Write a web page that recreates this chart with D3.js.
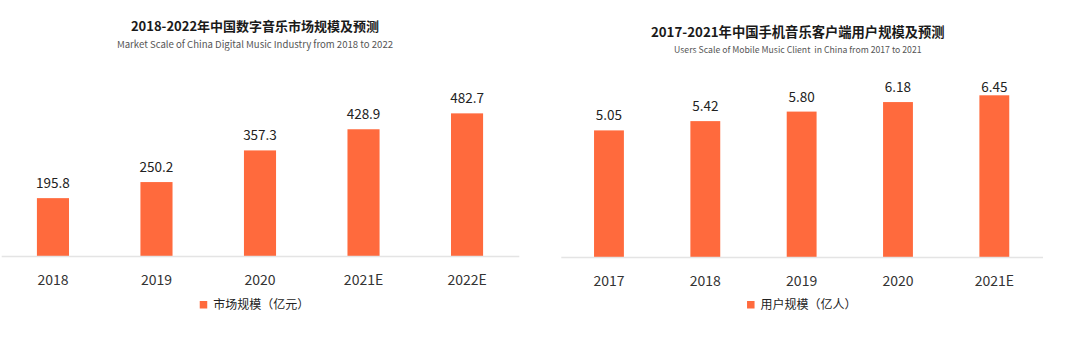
<!DOCTYPE html>
<html><head><meta charset="utf-8">
<script src="https://cdn.jsdelivr.net/npm/d3@7"></script>
<style>
html,body{margin:0;padding:0;background:#fff;}
svg{display:block;font-family:"Noto Sans CJK SC","Noto Sans",sans-serif;}
text{white-space:pre;}
</style></head>
<body><svg id="c" width="1079" height="346"></svg>
<script>
// ---- Data ----
const leftTitle = "2018-2022年中国数字音乐市场规模及预测";
const leftSubtitle = "Market Scale of China Digital Music Industry from 2018 to 2022";
const leftCategories = ["2018", "2019", "2020", "2021E", "2022E"];
const leftValues = [195.8, 250.2, 357.3, 428.9, 482.7];
const leftLabels = ["195.8", "250.2", "357.3", "428.9", "482.7"];
const leftLegend = "市场规模（亿元）";

const rightTitle = "2017-2021年中国手机音乐客户端用户规模及预测";
const rightSubtitle = "Users Scale of Mobile Music Client  in China from 2017 to 2021";
const rightCategories = ["2017", "2018", "2019", "2020", "2021E"];
const rightValues = [5.05, 5.42, 5.80, 6.18, 6.45];
const rightLabels = ["5.05", "5.42", "5.80", "6.18", "6.45"];
const rightLegend = "用户规模（亿人）";

const BAR = "#FF6A3D";
const svg = d3.select("#c");

function panel(cfg) {
  const g = svg.append("g");
  const x = d3.scaleBand().domain(cfg.cats).range([cfg.x0, cfg.x1]).paddingInner(0.69).paddingOuter(0.345);
  const y = d3.scaleLinear().domain([0, cfg.ymax]).range([cfg.base, cfg.top]);

  // title
  g.append("text").attr("x", cfg.titleX).attr("y", cfg.titleY).attr("text-anchor", "middle")
    .attr("font-size", cfg.titleSize).attr("font-weight", "bold").attr("fill", "#1a1a1a").text(cfg.title);
  g.append("text").attr("x", cfg.titleX).attr("y", cfg.subY).attr("text-anchor", "middle")
    .attr("font-size", cfg.subSize).attr("fill", "#555").text(cfg.sub);

  // bars
  g.selectAll("rect.bar").data(cfg.vals).join("rect").attr("class", "bar")
    .attr("x", (d, i) => x(cfg.cats[i])).attr("width", x.bandwidth())
    .attr("y", d => y(d)).attr("height", d => y(0) - y(d)).attr("fill", BAR);

  // value labels
  g.selectAll("text.val").data(cfg.vals).join("text").attr("class", "val")
    .attr("x", (d, i) => x(cfg.cats[i]) + x.bandwidth() / 2)
    .attr("y", d => Math.max(y(d) - 10, cfg.top + 10))
    .attr("text-anchor", "middle").attr("font-size", 13.5).attr("fill", "#222")
    .text((d, i) => cfg.labels[i]);

  // axis
  const ax = g.append("g").attr("transform", `translate(0,${cfg.base})`)
    .call(d3.axisBottom(x).tickSize(0).tickPadding(19));
  ax.select(".domain").attr("stroke", "#e4e4e4").attr("stroke-width", 1.5);
  ax.selectAll("text").attr("font-size", 14).attr("fill", "#333")
    .attr("font-family", '"Noto Sans CJK SC","Noto Sans",sans-serif');

  // legend
  const lg = g.append("g");
  const lt = lg.append("text").attr("y", 309).attr("font-size", 12).attr("fill", "#222").text(cfg.legend);
  const tw = lt.node().getComputedTextLength();
  const total = 7.5 + 6 + tw;
  const lx = cfg.legendX - total / 2;
  lg.append("rect").attr("x", lx).attr("y", 301).attr("width", 7.5).attr("height", 7.5).attr("fill", BAR);
  lt.attr("x", lx + 13.5);
}

panel({cats: leftCategories, vals: leftValues, labels: leftLabels, title: leftTitle, sub: leftSubtitle,
  legend: leftLegend, x0: 1.2, x1: 518.8, base: 256, top: 256 - 600 * 0.2955, ymax: 600,
  titleX: 255, titleY: 30.5, subY: 47.5, titleSize: 13, subSize: 9.6, legendX: 254.5});

panel({cats: rightCategories, vals: rightValues, labels: rightLabels, title: rightTitle, sub: rightSubtitle,
  legend: rightLegend, x0: 560.8, x1: 1042.5, base: 257, top: 257 - 7 * 25.07, ymax: 7,
  titleX: 797.8, titleY: 37, subY: 53, titleSize: 13.3, subSize: 8.7, legendX: 801.8});
</script>
</body></html>
